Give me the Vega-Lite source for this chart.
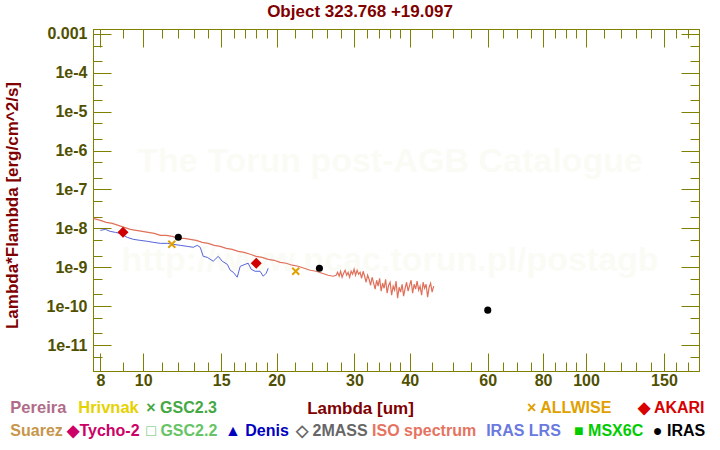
{
"$schema": "https://vega.github.io/schema/vega-lite/v6.json",
"width": 606, "height": 342,
"autosize": {"type": "none"},
"padding": {"left": 93, "top": 29, "right": 21, "bottom": 79},
"background": "white",
"config": {"view": {"stroke": "#808000", "strokeWidth": 1}, "font": "Liberation Sans"},
"title": {"text": "Object 323.768 +19.097", "color": "#800000", "font": "Liberation Sans", "fontSize": 17, "fontWeight": "bold", "frame": "group", "anchor": "middle", "dx": -36, "offset": 5},
"datasets": {
"iso": [
{"lambda":7.71,"flux":1.80e-8},{"lambda":8.00,"flux":1.60e-8},{"lambda":8.25,"flux":1.43e-8},{"lambda":8.51,"flux":1.34e-8},{"lambda":8.78,"flux":1.19e-8},{"lambda":9.06,"flux":1.06e-8},{"lambda":9.35,"flux":9.43e-9},{"lambda":9.64,"flux":8.89e-9},{"lambda":9.95,"flux":8.38e-9},{"lambda":10.26,"flux":7.89e-9},{"lambda":10.59,"flux":7.44e-9},{"lambda":10.93,"flux":6.62e-9},{"lambda":11.27,"flux":6.62e-9},{"lambda":11.63,"flux":6.24e-9},{"lambda":12.00,"flux":5.55e-9},{"lambda":12.38,"flux":5.55e-9},{"lambda":12.77,"flux":5.23e-9},{"lambda":13.17,"flux":4.92e-9},{"lambda":13.59,"flux":4.38e-9},{"lambda":14.02,"flux":4.12e-9},{"lambda":14.47,"flux":3.66e-9},{"lambda":14.92,"flux":3.45e-9},{"lambda":15.40,"flux":3.07e-9},{"lambda":15.88,"flux":2.89e-9},{"lambda":16.39,"flux":2.57e-9},{"lambda":16.90,"flux":2.42e-9},{"lambda":17.44,"flux":2.16e-9},{"lambda":17.99,"flux":1.91e-9},{"lambda":18.56,"flux":1.80e-9},{"lambda":19.15,"flux":1.60e-9},{"lambda":19.76,"flux":1.51e-9},{"lambda":20.38,"flux":1.34e-9},{"lambda":21.03,"flux":1.27e-9},{"lambda":21.70,"flux":1.13e-9},{"lambda":22.38,"flux":1.06e-9},{"lambda":23.09,"flux":9.43e-10},{"lambda":23.82,"flux":8.38e-10},{"lambda":24.58,"flux":7.89e-10},{"lambda":25.36,"flux":7.02e-10},{"lambda":26.16,"flux":6.24e-10},{"lambda":26.85,"flux":5.88e-10},
{"lambda":27.27,"flux":6.24e-10},{"lambda":27.48,"flux":7.44e-10},{"lambda":27.70,"flux":5.88e-10},{"lambda":27.91,"flux":7.89e-10},{"lambda":28.13,"flux":5.54e-10},{"lambda":28.35,"flux":7.02e-10},{"lambda":28.57,"flux":8.38e-10},{"lambda":28.80,"flux":6.24e-10},{"lambda":29.02,"flux":7.44e-10},{"lambda":29.25,"flux":5.54e-10},{"lambda":29.48,"flux":7.89e-10},{"lambda":29.71,"flux":6.62e-10},{"lambda":29.94,"flux":8.89e-10},{"lambda":30.17,"flux":6.24e-10},{"lambda":30.41,"flux":8.38e-10},{"lambda":30.65,"flux":6.62e-10},{"lambda":30.89,"flux":7.44e-10},{"lambda":31.13,"flux":5.22e-10},{"lambda":31.38,"flux":7.89e-10},{"lambda":31.62,"flux":5.88e-10},{"lambda":31.87,"flux":4.12e-10},{"lambda":32.12,"flux":6.24e-10},{"lambda":32.37,"flux":4.92e-10},{"lambda":32.62,"flux":3.45e-10},{"lambda":32.88,"flux":5.54e-10},{"lambda":33.14,"flux":3.89e-10},{"lambda":33.40,"flux":2.73e-10},{"lambda":33.66,"flux":4.64e-10},{"lambda":33.92,"flux":3.26e-10},{"lambda":34.19,"flux":5.22e-10},{"lambda":34.46,"flux":2.42e-10},{"lambda":34.73,"flux":3.89e-10},{"lambda":35.00,"flux":2.89e-10},{"lambda":35.27,"flux":4.92e-10},{"lambda":35.55,"flux":2.15e-10},{"lambda":35.83,"flux":3.45e-10},{"lambda":36.11,"flux":4.12e-10},{"lambda":36.39,"flux":1.91e-10},{"lambda":36.68,"flux":3.26e-10},{"lambda":36.96,"flux":2.57e-10},{"lambda":37.25,"flux":4.38e-10},{"lambda":37.54,"flux":1.60e-10},{"lambda":37.84,"flux":3.07e-10},{"lambda":38.13,"flux":2.29e-10},{"lambda":38.43,"flux":3.66e-10},{"lambda":38.73,"flux":1.80e-10},{"lambda":39.04,"flux":2.89e-10},{"lambda":39.34,"flux":4.12e-10},{"lambda":39.65,"flux":2.42e-10},{"lambda":39.96,"flux":3.45e-10},{"lambda":40.27,"flux":4.64e-10},{"lambda":40.59,"flux":2.15e-10},{"lambda":40.91,"flux":3.66e-10},{"lambda":41.23,"flux":2.73e-10},{"lambda":41.55,"flux":4.38e-10},{"lambda":41.88,"flux":2.57e-10},{"lambda":42.20,"flux":3.26e-10},{"lambda":42.53,"flux":1.91e-10},{"lambda":42.87,"flux":4.12e-10},{"lambda":43.20,"flux":2.89e-10},{"lambda":43.54,"flux":3.66e-10},{"lambda":43.88,"flux":1.70e-10},{"lambda":44.23,"flux":3.07e-10},{"lambda":44.57,"flux":3.89e-10},{"lambda":44.92,"flux":2.29e-10},{"lambda":45.28,"flux":3.26e-10}
],
"lrs": [
{"lambda":8.00,"flux":8.89e-9},{"lambda":8.21,"flux":9.43e-9},{"lambda":8.42,"flux":8.38e-9},{"lambda":8.65,"flux":7.89e-9},{"lambda":8.87,"flux":7.44e-9},{"lambda":9.20,"flux":5.88e-9},{"lambda":9.49,"flux":5.23e-9},{"lambda":9.84,"flux":4.92e-9},{"lambda":10.21,"flux":4.65e-9},{"lambda":10.53,"flux":4.38e-9},{"lambda":10.93,"flux":4.12e-9},{"lambda":11.33,"flux":4.12e-9},{"lambda":11.69,"flux":3.89e-9},{"lambda":12.12,"flux":3.66e-9},{"lambda":12.57,"flux":3.45e-9},{"lambda":12.97,"flux":3.26e-9},{"lambda":13.24,"flux":3.66e-9},{"lambda":13.45,"flux":3.26e-9},{"lambda":13.66,"flux":1.91e-9},{"lambda":13.95,"flux":1.80e-9},{"lambda":14.39,"flux":1.43e-9},{"lambda":14.77,"flux":1.91e-9},{"lambda":15.08,"flux":1.43e-9},{"lambda":15.48,"flux":1.19e-9},{"lambda":15.72,"flux":8.38e-10},{"lambda":15.97,"flux":7.44e-10},{"lambda":16.30,"flux":5.55e-10},{"lambda":16.56,"flux":1.06e-9},{"lambda":16.99,"flux":1.19e-9},{"lambda":17.26,"flux":1.27e-9},{"lambda":17.53,"flux":8.89e-10},{"lambda":17.89,"flux":7.89e-10},{"lambda":18.36,"flux":7.89e-10},{"lambda":18.66,"flux":5.88e-10},{"lambda":18.95,"flux":7.02e-10},{"lambda":19.15,"flux":9.43e-10}
],
"akari": [{"lambda":9.0,"flux":7.9e-9},{"lambda":18.0,"flux":1.27e-9}],
"iras": [{"lambda":12.0,"flux":5.9e-9},{"lambda":25.0,"flux":9.4e-10},{"lambda":60.0,"flux":7.9e-11}],
"allwise": [{"lambda":11.6,"flux":3.9e-9},{"lambda":22.1,"flux":7.9e-10}]
},
"resolve": {"axis": {"x": "independent", "y": "independent"}},
"layer": [
{"data": {"values": [{}]}, "mark": {"type": "text", "text": "The Torun post-AGB Catalogue", "fontSize": 34, "fontWeight": "bold", "font": "Liberation Sans", "color": "#fbfbf6"},
 "encoding": {"x": {"datum": 36.1, "type": "quantitative", "scale": {"type": "log", "domain": [7.7, 180], "nice": false}, "axis": null}, "y": {"datum": 5.22e-7, "type": "quantitative", "scale": {"type": "log", "domain": [2.15e-12, 1.34e-3], "nice": false}, "axis": null}}},
{"data": {"values": [{}]}, "mark": {"type": "text", "text": "http://www.ncac.torun.pl/postagb", "fontSize": 34, "fontWeight": "bold", "font": "Liberation Sans", "color": "#fbfbf6"},
 "encoding": {"x": {"datum": 36.1, "type": "quantitative", "scale": {"type": "log", "domain": [7.7, 180], "nice": false}, "axis": null}, "y": {"datum": 1.43e-9, "type": "quantitative", "scale": {"type": "log", "domain": [2.15e-12, 1.34e-3], "nice": false}, "axis": null}}},
{"data": {"name": "iso"}, "mark": {"type": "line", "color": "#e0705a", "strokeWidth": 1.2, "clip": true},
 "encoding": {
  "x": {"field": "lambda", "type": "quantitative", "scale": {"type": "log", "domain": [7.7, 180], "nice": false},
   "axis": {"orient": "bottom", "values": [8,9,10,11,12,13,14,15,16,17,18,19,20,22,24,26,28,30,32,34,36,38,40,45,50,55,60,65,70,75,80,85,90,95,100,110,120,130,140,150,160,170],
    "labelExpr": "indexof([8,10,15,20,30,40,60,80,100,150], datum.value) >= 0 ? '' + datum.value : ''",
    "tickSize": {"condition": {"test": "indexof([8,10,15,20,30,40,60,80,100,150], datum.value) >= 0", "value": -18}, "value": -9},
    "labelPadding": 19, "labelOverlap": false, "labelFlush": false, "labelBound": false, "grid": false,
    "domainColor": "#808000", "tickColor": "#808000", "labelColor": "#505000", "labelFont": "Liberation Sans", "labelFontSize": 16, "labelFontWeight": "bold",
    "title": "Lambda [um]", "titleColor": "#800000", "titleFont": "Liberation Sans", "titleFontSize": 17, "titleFontWeight": "bold", "titleX": 267, "titleY": 37, "titleBaseline": "middle"}},
  "y": {"field": "flux", "type": "quantitative", "scale": {"type": "log", "domain": [2.15e-12, 1.34e-3], "nice": false},
   "axis": {"orient": "left", "values": [1e-3,5e-4,2e-4,1e-4,5e-5,2e-5,1e-5,5e-6,2e-6,1e-6,5e-7,2e-7,1e-7,5e-8,2e-8,1e-8,5e-9,2e-9,1e-9,5e-10,2e-10,1e-10,5e-11,2e-11,1e-11,5e-12],
    "labelExpr": "abs(log(datum.value)/LN10 - round(log(datum.value)/LN10)) < 0.01 ? (round(log(datum.value)/LN10) == -3 ? '0.001' : '1e' + round(log(datum.value)/LN10)) : ''",
    "tickSize": {"condition": {"test": "abs(log(datum.value)/LN10 - round(log(datum.value)/LN10)) < 0.01", "value": -18}, "value": -9},
    "labelPadding": 24, "labelOverlap": false, "labelFlush": false, "labelBound": false, "grid": false,
    "domainColor": "#808000", "tickColor": "#808000", "labelColor": "#505000", "labelFont": "Liberation Sans", "labelFontSize": 16, "labelFontWeight": "bold",
    "title": "Lambda*Flambda [erg/cm^2/s]", "titleColor": "#800000", "titleFont": "Liberation Sans", "titleFontSize": 17, "titleFontWeight": "bold", "titleX": -81, "titleY": 176, "titleAngle": 270, "titleBaseline": "middle", "titleAlign": "center"}}
 }},
{"data": {"name": "lrs"}, "mark": {"type": "line", "color": "#5563d8", "strokeWidth": 1, "clip": true},
 "encoding": {
  "x": {"field": "lambda", "type": "quantitative", "scale": {"type": "log", "domain": [7.7, 180], "nice": false},
   "axis": {"orient": "top", "values": [8,9,10,11,12,13,14,15,16,17,18,19,20,22,24,26,28,30,32,34,36,38,40,45,50,55,60,65,70,75,80,85,90,95,100,110,120,130,140,150,160,170],
    "labels": false, "tickSize": {"condition": {"test": "indexof([8,10,15,20,30,40,60,80,100,150], datum.value) >= 0", "value": -18}, "value": -9},
    "grid": false, "domainColor": "#808000", "tickColor": "#808000", "title": null}},
  "y": {"field": "flux", "type": "quantitative", "scale": {"type": "log", "domain": [2.15e-12, 1.34e-3], "nice": false},
   "axis": {"orient": "right", "values": [1e-3,5e-4,2e-4,1e-4,5e-5,2e-5,1e-5,5e-6,2e-6,1e-6,5e-7,2e-7,1e-7,5e-8,2e-8,1e-8,5e-9,2e-9,1e-9,5e-10,2e-10,1e-10,5e-11,2e-11,1e-11,5e-12],
    "labels": false, "tickSize": {"condition": {"test": "abs(log(datum.value)/LN10 - round(log(datum.value)/LN10)) < 0.01", "value": -18}, "value": -9},
    "grid": false, "domainColor": "#808000", "tickColor": "#808000", "title": null}}
 }},
{"data": {"name": "allwise"}, "mark": {"type": "point", "shape": "M-1,-1L1,1M-1,1L1,-1", "filled": false, "stroke": "#e0a000", "strokeWidth": 2, "size": 49, "opacity": 1},
 "encoding": {"x": {"field": "lambda", "type": "quantitative", "scale": {"type": "log", "domain": [7.7, 180], "nice": false}, "axis": null}, "y": {"field": "flux", "type": "quantitative", "scale": {"type": "log", "domain": [2.15e-12, 1.34e-3], "nice": false}, "axis": null}}},
{"data": {"name": "akari"}, "mark": {"type": "point", "shape": "diamond", "filled": true, "color": "#d00000", "size": 121, "opacity": 1},
 "encoding": {"x": {"field": "lambda", "type": "quantitative", "scale": {"type": "log", "domain": [7.7, 180], "nice": false}, "axis": null}, "y": {"field": "flux", "type": "quantitative", "scale": {"type": "log", "domain": [2.15e-12, 1.34e-3], "nice": false}, "axis": null}}},
{"data": {"name": "iras"}, "mark": {"type": "point", "shape": "circle", "filled": true, "color": "#000000", "size": 50, "opacity": 1},
 "encoding": {"x": {"field": "lambda", "type": "quantitative", "scale": {"type": "log", "domain": [7.7, 180], "nice": false}, "axis": null}, "y": {"field": "flux", "type": "quantitative", "scale": {"type": "log", "domain": [2.15e-12, 1.34e-3], "nice": false}, "axis": null}}},
{"data": {"values": [{}]}, "mark": {"type": "text", "text": "Pereira", "align": "left", "baseline": "middle", "fontSize": 16.5, "fontWeight": "bold", "font": "Liberation Sans", "color": "#b06c88"},
 "encoding": {"x": {"datum": 5.01, "type": "quantitative", "scale": {"type": "log", "domain": [7.7, 180], "nice": false}, "axis": null}, "y": {"datum": 2.35e-13, "type": "quantitative", "scale": {"type": "log", "domain": [2.15e-12, 1.34e-3], "nice": false}, "axis": null}}},
{"data": {"values": [{}]}, "mark": {"type": "text", "text": "Hrivnak", "align": "left", "baseline": "middle", "fontSize": 16.5, "fontWeight": "bold", "font": "Liberation Sans", "color": "#e6d200"},
 "encoding": {"x": {"datum": 7.13, "type": "quantitative", "scale": {"type": "log", "domain": [7.7, 180], "nice": false}, "axis": null}, "y": {"datum": 2.35e-13, "type": "quantitative", "scale": {"type": "log", "domain": [2.15e-12, 1.34e-3], "nice": false}, "axis": null}}},
{"data": {"values": [{}]}, "mark": {"type": "text", "text": "× GSC2.3", "align": "left", "baseline": "middle", "fontSize": 16, "fontWeight": "bold", "font": "Liberation Sans", "color": "#44a844"},
 "encoding": {"x": {"datum": 10.16, "type": "quantitative", "scale": {"type": "log", "domain": [7.7, 180], "nice": false}, "axis": null}, "y": {"datum": 2.35e-13, "type": "quantitative", "scale": {"type": "log", "domain": [2.15e-12, 1.34e-3], "nice": false}, "axis": null}}},
{"data": {"values": [{}]}, "mark": {"type": "text", "text": "× ALLWISE", "align": "left", "baseline": "middle", "fontSize": 16, "fontWeight": "bold", "font": "Liberation Sans", "color": "#e0a000"},
 "encoding": {"x": {"datum": 73.6, "type": "quantitative", "scale": {"type": "log", "domain": [7.7, 180], "nice": false}, "axis": null}, "y": {"datum": 2.35e-13, "type": "quantitative", "scale": {"type": "log", "domain": [2.15e-12, 1.34e-3], "nice": false}, "axis": null}}},
{"data": {"values": [{}]}, "mark": {"type": "text", "text": "◆ AKARI", "align": "left", "baseline": "middle", "fontSize": 16, "fontWeight": "bold", "font": "Liberation Sans", "color": "#d80000"},
 "encoding": {"x": {"datum": 131.1, "type": "quantitative", "scale": {"type": "log", "domain": [7.7, 180], "nice": false}, "axis": null}, "y": {"datum": 2.35e-13, "type": "quantitative", "scale": {"type": "log", "domain": [2.15e-12, 1.34e-3], "nice": false}, "axis": null}}},
{"data": {"values": [{}]}, "mark": {"type": "text", "text": "Suarez", "align": "left", "baseline": "middle", "fontSize": 16, "fontWeight": "bold", "font": "Liberation Sans", "color": "#c8964a"},
 "encoding": {"x": {"datum": 5.01, "type": "quantitative", "scale": {"type": "log", "domain": [7.7, 180], "nice": false}, "axis": null}, "y": {"datum": 6.2e-14, "type": "quantitative", "scale": {"type": "log", "domain": [2.15e-12, 1.34e-3], "nice": false}, "axis": null}}},
{"data": {"values": [{}]}, "mark": {"type": "text", "text": "◆Tycho-2", "align": "left", "baseline": "middle", "fontSize": 16, "fontWeight": "bold", "font": "Liberation Sans", "color": "#cc0066"},
 "encoding": {"x": {"datum": 6.74, "type": "quantitative", "scale": {"type": "log", "domain": [7.7, 180], "nice": false}, "axis": null}, "y": {"datum": 6.2e-14, "type": "quantitative", "scale": {"type": "log", "domain": [2.15e-12, 1.34e-3], "nice": false}, "axis": null}}},
{"data": {"values": [{}]}, "mark": {"type": "text", "text": "□ GSC2.2", "align": "left", "baseline": "middle", "fontSize": 16, "fontWeight": "bold", "font": "Liberation Sans", "color": "#66c466"},
 "encoding": {"x": {"datum": 10.16, "type": "quantitative", "scale": {"type": "log", "domain": [7.7, 180], "nice": false}, "axis": null}, "y": {"datum": 6.2e-14, "type": "quantitative", "scale": {"type": "log", "domain": [2.15e-12, 1.34e-3], "nice": false}, "axis": null}}},
{"data": {"values": [{}]}, "mark": {"type": "text", "text": "▲ Denis", "align": "left", "baseline": "middle", "fontSize": 16, "fontWeight": "bold", "font": "Liberation Sans", "color": "#0000c0"},
 "encoding": {"x": {"datum": 15.3, "type": "quantitative", "scale": {"type": "log", "domain": [7.7, 180], "nice": false}, "axis": null}, "y": {"datum": 6.2e-14, "type": "quantitative", "scale": {"type": "log", "domain": [2.15e-12, 1.34e-3], "nice": false}, "axis": null}}},
{"data": {"values": [{}]}, "mark": {"type": "text", "text": "◇ 2MASS", "align": "left", "baseline": "middle", "fontSize": 16, "fontWeight": "bold", "font": "Liberation Sans", "color": "#666666"},
 "encoding": {"x": {"datum": 22.14, "type": "quantitative", "scale": {"type": "log", "domain": [7.7, 180], "nice": false}, "axis": null}, "y": {"datum": 6.2e-14, "type": "quantitative", "scale": {"type": "log", "domain": [2.15e-12, 1.34e-3], "nice": false}, "axis": null}}},
{"data": {"values": [{}]}, "mark": {"type": "text", "text": "ISO spectrum", "align": "left", "baseline": "middle", "fontSize": 16, "fontWeight": "bold", "font": "Liberation Sans", "color": "#e6735f"},
 "encoding": {"x": {"datum": 32.88, "type": "quantitative", "scale": {"type": "log", "domain": [7.7, 180], "nice": false}, "axis": null}, "y": {"datum": 6.2e-14, "type": "quantitative", "scale": {"type": "log", "domain": [2.15e-12, 1.34e-3], "nice": false}, "axis": null}}},
{"data": {"values": [{}]}, "mark": {"type": "text", "text": "IRAS LRS", "align": "left", "baseline": "middle", "fontSize": 16, "fontWeight": "bold", "font": "Liberation Sans", "color": "#6a7ae0"},
 "encoding": {"x": {"datum": 59.5, "type": "quantitative", "scale": {"type": "log", "domain": [7.7, 180], "nice": false}, "axis": null}, "y": {"datum": 6.2e-14, "type": "quantitative", "scale": {"type": "log", "domain": [2.15e-12, 1.34e-3], "nice": false}, "axis": null}}},
{"data": {"values": [{}]}, "mark": {"type": "text", "text": "■ MSX6C", "align": "left", "baseline": "middle", "fontSize": 16, "fontWeight": "bold", "font": "Liberation Sans", "color": "#00cc00"},
 "encoding": {"x": {"datum": 93.96, "type": "quantitative", "scale": {"type": "log", "domain": [7.7, 180], "nice": false}, "axis": null}, "y": {"datum": 6.2e-14, "type": "quantitative", "scale": {"type": "log", "domain": [2.15e-12, 1.34e-3], "nice": false}, "axis": null}}},
{"data": {"values": [{}]}, "mark": {"type": "text", "text": "● IRAS", "align": "left", "baseline": "middle", "fontSize": 16, "fontWeight": "bold", "font": "Liberation Sans", "color": "#000000"},
 "encoding": {"x": {"datum": 141.6, "type": "quantitative", "scale": {"type": "log", "domain": [7.7, 180], "nice": false}, "axis": null}, "y": {"datum": 6.2e-14, "type": "quantitative", "scale": {"type": "log", "domain": [2.15e-12, 1.34e-3], "nice": false}, "axis": null}}}
]
}
